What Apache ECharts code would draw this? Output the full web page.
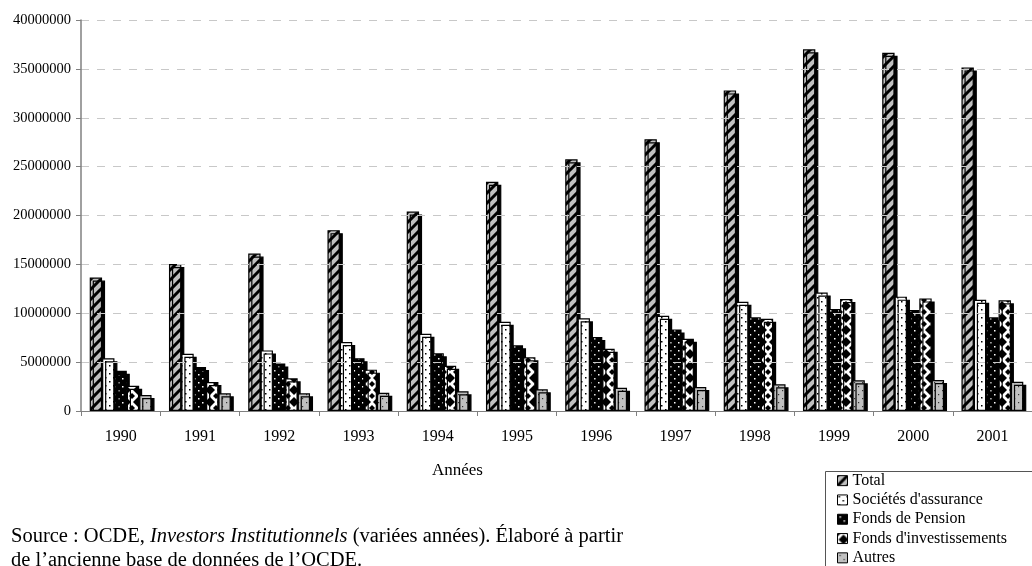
<!DOCTYPE html>
<html>
<head>
<meta charset="utf-8">
<script src="https://cdn.jsdelivr.net/npm/echarts@6/dist/echarts.min.js"></script>
<style>html,body{margin:0;padding:0;background:#fff}#c{width:1032px;height:566px}</style>
</head>
<body>
<div id="c"></div>
<script>
const years = ['1990','1991','1992','1993','1994','1995','1996','1997','1998','1999','2000','2001'];
const total = [13650000,15030000,16100000,18500000,20400000,23450000,25750000,27800000,32800000,37000000,36650000,35150000];
const assurance = [5400000,5850000,6200000,7050000,7900000,9130000,9480000,9750000,11180000,12130000,11700000,11380000];
const pension = [4120000,4500000,4870000,5400000,5900000,6720000,7570000,8350000,9580000,10430000,10330000,9580000];
const investissements = [2590000,2970000,3340000,4230000,4630000,5490000,6370000,7390000,9440000,11450000,11520000,11320000];
const autres = [1640000,1810000,1810000,1870000,2010000,2220000,2380000,2450000,2730000,3140000,3170000,3000000];
const seriesNames = ['Total',"Sociétés d'assurance",'Fonds de Pension',"Fonds d'investissements",'Autres'];
const yTicks = {min:0, max:40000000, interval:5000000};

function tile(w,h,draw){const c=document.createElement('canvas');c.width=w;c.height=h;const x=c.getContext('2d');draw(x,w,h);return c;}
const pTotal = tile(10,10,(x,w,h)=>{x.fillStyle='#c0c0c0';x.fillRect(0,0,w,h);x.strokeStyle='#000';x.lineWidth=3;
  x.beginPath();x.moveTo(-5,5);x.lineTo(5,-5);x.moveTo(0,10);x.lineTo(10,0);x.moveTo(5,15);x.lineTo(15,5);x.stroke();});
const pAss = tile(8,8,(x,w,h)=>{x.fillStyle='#fff';x.fillRect(0,0,w,h);x.fillStyle='#000';x.fillRect(1,1,1.5,1.5);x.fillRect(5,5,1.5,1.5);});
const pPen = tile(8,8,(x,w,h)=>{x.fillStyle='#000';x.fillRect(0,0,w,h);x.fillStyle='#fff';x.fillRect(2,2,1.5,1.5);x.fillRect(6,6,1.5,1.5);});
const pInv = tile(12,12,(x,w,h)=>{x.fillStyle='#fff';x.fillRect(0,0,w,h);x.fillStyle='#000';
  x.beginPath();x.moveTo(6,1);x.lineTo(11,6);x.lineTo(6,11);x.lineTo(1,6);x.closePath();x.fill();
  x.beginPath();x.moveTo(0,0);x.lineTo(3,0);x.lineTo(0,3);x.closePath();x.fill();
  x.beginPath();x.moveTo(12,0);x.lineTo(9,0);x.lineTo(12,3);x.closePath();x.fill();
  x.beginPath();x.moveTo(0,12);x.lineTo(3,12);x.lineTo(0,9);x.closePath();x.fill();
  x.beginPath();x.moveTo(12,12);x.lineTo(9,12);x.lineTo(12,9);x.closePath();x.fill();});
const pAut = tile(8,8,(x,w,h)=>{x.fillStyle='#c0c0c0';x.fillRect(0,0,w,h);x.fillStyle='#333';x.fillRect(2,2,1.2,1.2);x.fillRect(6,6,1.2,1.2);});
const patterns=[pTotal,pAss,pPen,pInv,pAut];
const data=[total,assurance,pension,investissements,autres];

const FONT='Liberation Serif';
const chart=echarts.init(document.getElementById('c'),null,{renderer:'canvas'});
chart.setOption({
  animation:false,
  backgroundColor:'#fff',
  grid:{left:81,top:20,width:960,height:391,containLabel:false},
  xAxis:{type:'category',data:years,boundaryGap:true,z:20,
    axisLine:{lineStyle:{color:'#808080',width:1}},
    axisTick:{show:true,length:5,interval:0,lineStyle:{color:'#808080'}},
    axisLabel:{color:'#000',fontFamily:FONT,fontSize:16,margin:18,interval:0}},
  yAxis:{type:'value',min:yTicks.min,max:yTicks.max,interval:yTicks.interval,z:20,
    axisLine:{show:true,lineStyle:{color:'#808080',width:1.5}},
    axisTick:{show:true,length:5,lineStyle:{color:'#808080'}},
    axisLabel:{color:'#000',fontFamily:FONT,fontSize:14.5,margin:10,formatter:v=>String(v)},
    splitLine:{lineStyle:{color:'#c8c8c8',type:[8,8],width:1}}},
  legend:{orient:'vertical',left:837,top:471,height:200,padding:0,itemWidth:10,itemHeight:10,itemGap:0,
    icon:'rect',
    itemStyle:{borderColor:'#000',borderWidth:1,shadowBlur:0,shadowOffsetX:0,shadowOffsetY:0,shadowColor:'rgba(0,0,0,0)'},
    textStyle:{fontFamily:FONT,fontSize:16,color:'#000',lineHeight:19.3},
    data:seriesNames},
  graphic:[
    {type:'rect',z:10,shape:{x:82,y:412,width:960,height:5},style:{fill:'#fff'}},
    {type:'rect',left:823,top:469,shape:{width:230,height:120},style:{fill:'none',stroke:'#555',lineWidth:1}},
    {type:'text',left:432,top:462,style:{text:'Années',fontFamily:FONT,fontSize:17,fill:'#000'}},
    {type:'text',left:11,top:525,style:{text:'Source : OCDE, {it|Investors Institutionnels} (variées années). Élaboré à partir\nde l’ancienne base de données de l’OCDE.',
      fontFamily:FONT,fontSize:20.5,fill:'#000',lineHeight:23.5,rich:{it:{fontStyle:'italic',fontFamily:FONT,fontSize:20.5,fill:'#000',lineHeight:23.5}}}}
  ],
  series:seriesNames.map((n,i)=>({name:n,type:'bar',data:data[i],barGap:'0%',barCategoryGap:'22%',
    itemStyle:{color:{image:patterns[i],repeat:'repeat'},borderColor:'#000',borderWidth:1.2,
      shadowColor:'#000',shadowBlur:0,shadowOffsetX:3,shadowOffsetY:3}}))
});
</script>
</body>
</html>
